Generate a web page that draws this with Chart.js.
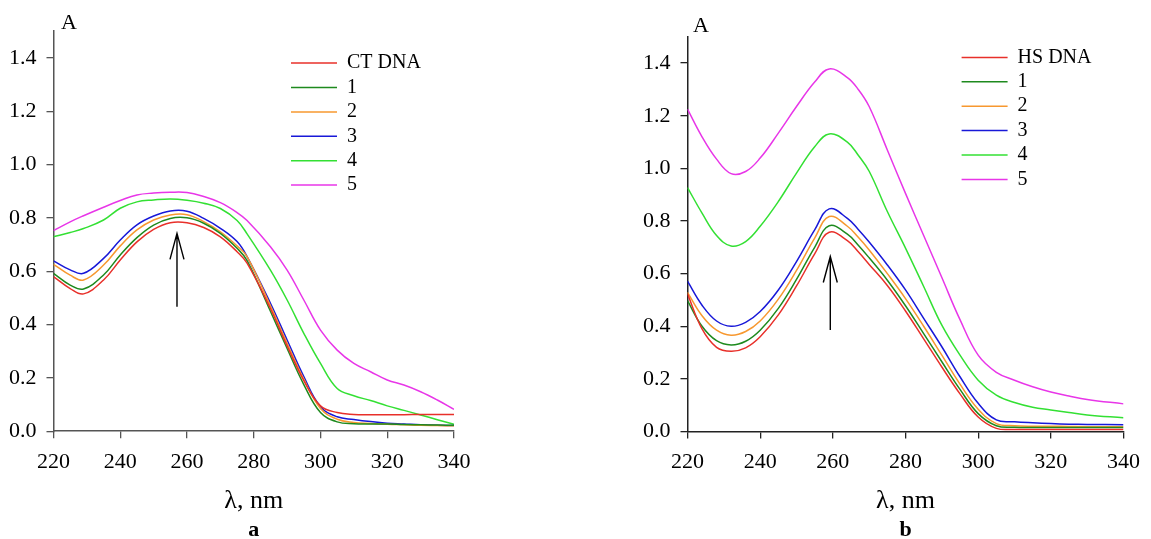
<!DOCTYPE html>
<html>
<head>
<meta charset="utf-8">
<script src="https://cdn.jsdelivr.net/npm/chart.js@4.4.0/dist/chart.umd.min.js"></script>
<style>
  html, body { margin: 0; padding: 0; background: #fff; }
  #wrap { position: relative; width: 1151px; height: 539px; }
  .panel { position: absolute; top: 0; height: 539px; }
  #panelA { left: 0; width: 575px; }
  #panelB { left: 575px; width: 576px; }
</style>
</head>
<body>
<div id="wrap">
  <div class="panel" id="panelA"><canvas id="chartA"></canvas></div>
  <div class="panel" id="panelB"><canvas id="chartB"></canvas></div>
</div>
<script>
// ---- data ----
const seriesColors = ['#e8302a', '#1e8a1e', '#f7982f', '#1818d8', '#33e033', '#e836e8'];
const labelsA = ['CT DNA', '1', '2', '3', '4', '5'];
const labelsB = ['HS DNA', '1', '2', '3', '4', '5'];

// panel a
const wavelengthA = [220, 225, 229, 235, 240, 245, 250, 255, 260, 265, 270, 275, 278, 285, 290, 295, 300, 305, 310, 315, 320, 325, 330, 335, 340];
const ctDnaA = [0.580, 0.535, 0.515, 0.567, 0.642, 0.710, 0.757, 0.782, 0.782, 0.764, 0.729, 0.673, 0.630, 0.460, 0.320, 0.190, 0.095, 0.070, 0.063, 0.062, 0.062, 0.062, 0.063, 0.063, 0.063];
const cpd1A = [0.592, 0.548, 0.533, 0.586, 0.661, 0.726, 0.773, 0.798, 0.800, 0.780, 0.742, 0.686, 0.640, 0.450, 0.310, 0.175, 0.070, 0.035, 0.028, 0.027, 0.027, 0.025, 0.024, 0.023, 0.022];
const cpd2A = [0.626, 0.585, 0.567, 0.623, 0.695, 0.755, 0.792, 0.811, 0.812, 0.786, 0.748, 0.695, 0.655, 0.470, 0.330, 0.195, 0.085, 0.045, 0.033, 0.029, 0.026, 0.024, 0.022, 0.021, 0.020];
const cpd3A = [0.639, 0.605, 0.592, 0.648, 0.717, 0.774, 0.807, 0.826, 0.825, 0.798, 0.761, 0.711, 0.655, 0.480, 0.342, 0.205, 0.092, 0.054, 0.044, 0.036, 0.030, 0.027, 0.024, 0.022, 0.021];
const cpd4A = [0.729, 0.745, 0.760, 0.792, 0.836, 0.860, 0.867, 0.871, 0.866, 0.855, 0.835, 0.790, 0.740, 0.604, 0.492, 0.367, 0.254, 0.160, 0.133, 0.115, 0.095, 0.078, 0.061, 0.043, 0.026];
const cpd5A = [0.752, 0.785, 0.808, 0.840, 0.865, 0.886, 0.893, 0.896, 0.895, 0.880, 0.857, 0.820, 0.790, 0.692, 0.604, 0.492, 0.379, 0.304, 0.254, 0.223, 0.192, 0.173, 0.148, 0.117, 0.082];

// panel b
const wavelengthB = [220, 224, 228, 232, 236, 240, 245, 250, 255, 259, 264, 267, 270, 275, 280, 285, 290, 295, 300, 305, 310, 315, 320, 325, 330, 340];
const hsDnaB = [0.523, 0.390, 0.320, 0.305, 0.318, 0.360, 0.443, 0.553, 0.675, 0.757, 0.725, 0.683, 0.635, 0.555, 0.458, 0.352, 0.245, 0.143, 0.055, 0.012, 0.008, 0.008, 0.008, 0.008, 0.008, 0.008];
const cpd1B = [0.497, 0.400, 0.345, 0.329, 0.343, 0.385, 0.468, 0.578, 0.700, 0.782, 0.750, 0.708, 0.660, 0.575, 0.478, 0.372, 0.265, 0.160, 0.068, 0.022, 0.016, 0.015, 0.015, 0.015, 0.015, 0.015];
const cpd2B = [0.529, 0.440, 0.385, 0.366, 0.380, 0.420, 0.503, 0.612, 0.735, 0.817, 0.780, 0.738, 0.690, 0.600, 0.505, 0.400, 0.290, 0.180, 0.085, 0.030, 0.022, 0.020, 0.020, 0.019, 0.018, 0.018];
const cpd3B = [0.571, 0.480, 0.420, 0.400, 0.415, 0.456, 0.538, 0.646, 0.766, 0.846, 0.810, 0.768, 0.720, 0.633, 0.538, 0.430, 0.322, 0.208, 0.107, 0.044, 0.037, 0.033, 0.030, 0.028, 0.027, 0.026];
const cpd4B = [0.927, 0.830, 0.745, 0.705, 0.722, 0.780, 0.874, 0.982, 1.082, 1.131, 1.100, 1.050, 0.989, 0.836, 0.697, 0.551, 0.404, 0.290, 0.195, 0.138, 0.110, 0.092, 0.082, 0.072, 0.063, 0.052];
const cpd5B = [1.225, 1.120, 1.035, 0.980, 0.988, 1.039, 1.134, 1.235, 1.328, 1.378, 1.345, 1.300, 1.235, 1.070, 0.905, 0.745, 0.585, 0.425, 0.290, 0.225, 0.195, 0.170, 0.150, 0.135, 0.122, 0.105];

// arrows: [wavelength, tail A, tip A]
const arrowA = [257, 0.467, 0.742];
const arrowB = [259.3, 0.386, 0.665];

const xTicks = [220, 240, 260, 280, 300, 320, 340];
const FONT = '"Liberation Serif", "Times New Roman", serif';

// draws the "A" axis letter and the arrow
const panelMarks = {
  id: 'panelMarks',
  afterDatasetsDraw(chart, args, opts) {
    const { ctx, chartArea, scales } = chart;
    ctx.save();
    ctx.fillStyle = '#000';
    ctx.font = '22px ' + FONT;
    ctx.textBaseline = 'alphabetic';
    ctx.textAlign = 'left';
    ctx.fillText('A', chartArea.left + opts.letterDx, chartArea.top + opts.letterDy);

    const x = scales.x.getPixelForValue(opts.arrow[0]);
    const yTail = scales.y.getPixelForValue(opts.arrow[1]);
    const yTip = scales.y.getPixelForValue(opts.arrow[2]);
    ctx.strokeStyle = '#000';
    ctx.lineWidth = 1.4;
    ctx.beginPath();
    ctx.moveTo(x, yTail);
    ctx.lineTo(x, yTip);
    ctx.moveTo(x - 7, yTip + 26);
    ctx.lineTo(x, yTip);
    ctx.lineTo(x + 7, yTip + 26);
    ctx.stroke();
    ctx.restore();
  }
};

// moves the legend inside the plot area
const legendSpot = {
  id: 'legendSpot',
  afterLayout(chart, args, opts) {
    const lg = chart.legend;
    const area = chart.chartArea;
    const w = lg.width, h = lg.height;
    lg.left = area.left + opts.dx;
    lg.top = area.top + opts.dy;
    lg.right = lg.left + w;
    lg.bottom = lg.top + h;
  }
};

function makeDatasets(xs, seriesList, labels) {
  return seriesList.map((vals, i) => ({
    label: labels[i],
    data: vals.map((v, j) => ({ x: xs[j], y: v })),
    borderColor: seriesColors[i],
    backgroundColor: seriesColors[i],
    borderWidth: 1.5,
    pointRadius: 0,
    fill: false,
    tension: 0.4
  }));
}

function createPanel(canvasId, xs, seriesList, labels, cfg) {
  new Chart(canvasId, {
    type: 'line',
    data: { datasets: makeDatasets(xs, seriesList, labels) },
    plugins: [panelMarks, legendSpot],
    options: {
      responsive: true,
      maintainAspectRatio: false,
      animation: false,
      events: [],
      layout: { padding: cfg.padding },
      scales: {
        x: {
          type: 'linear',
          min: 220,
          max: 340,
          afterBuildTicks: s => { s.ticks = xTicks.map(v => ({ value: v })); },
          afterFit: s => { s.height = cfg.xHeight; },
          border: { color: cfg.axisColor, width: 1.5 },
          grid: { drawOnChartArea: false, drawTicks: true, tickLength: 7, color: cfg.axisColor, lineWidth: 1.3 },
          ticks: { font: { family: FONT, size: 22 }, color: '#000', padding: 11, maxRotation: 0, callback: v => v },
          title: { display: true, text: 'λ, nm', font: { family: FONT, size: 26 }, color: '#000', padding: { top: 0, bottom: 5 } }
        },
        y: {
          min: 0,
          max: 1.5,
          afterFit: s => { s.width = 53.5; },
          border: { color: cfg.axisColor, width: 1.5 },
          grid: { drawOnChartArea: false, drawTicks: true, tickLength: 7, color: cfg.axisColor, lineWidth: 1.3 },
          ticks: { stepSize: 0.2, includeBounds: false, font: { family: FONT, size: 22 }, color: '#000', padding: 10, callback: v => v.toFixed(1) }
        }
      },
      plugins: {
        legend: {
          position: 'chartArea',
          align: 'start',
          labels: {
            font: { family: FONT, size: 20 },
            color: '#000',
            usePointStyle: true,
            pointStyle: 'line',
            pointStyleWidth: 46,
            padding: 4.4
          }
        },
        title: {
          display: true,
          text: cfg.letter,
          position: 'bottom',
          fullSize: false,
          color: '#000',
          font: { family: FONT, size: 22, weight: 'bold', lineHeight: 0.8 },
          padding: 0
        },
        tooltip: { enabled: false },
        panelMarks: { letterDx: cfg.letterDx, letterDy: cfg.letterDy, arrow: cfg.arrow },
        legendSpot: { dx: cfg.legendDx, dy: cfg.legendDy }
      }
    }
  });
}

// ******MAIN********
createPanel('chartA', wavelengthA, [ctDnaA, cpd1A, cpd2A, cpd3A, cpd4A, cpd5A], labelsA, {
  padding: { left: 0, right: 121, top: 31.2, bottom: 0 },
  xHeight: 90.2,
  axisColor: '#555',
  letter: 'a',
  letterDx: 7.5, letterDy: -2,
  arrow: arrowA,
  legendDx: 233.1, legendDy: 17.5
});

createPanel('chartB', wavelengthB, [hsDnaB, cpd1B, cpd2B, cpd3B, cpd4B, cpd5B], labelsB, {
  padding: { left: 59, right: 16.7, top: 36.8, bottom: 0 },
  xHeight: 89.9,
  axisColor: '#222',
  letter: 'b',
  letterDx: 5.4, letterDy: -5,
  arrow: arrowB,
  legendDx: 269.7, legendDy: 6.2
});
</script>
</body>
</html>
